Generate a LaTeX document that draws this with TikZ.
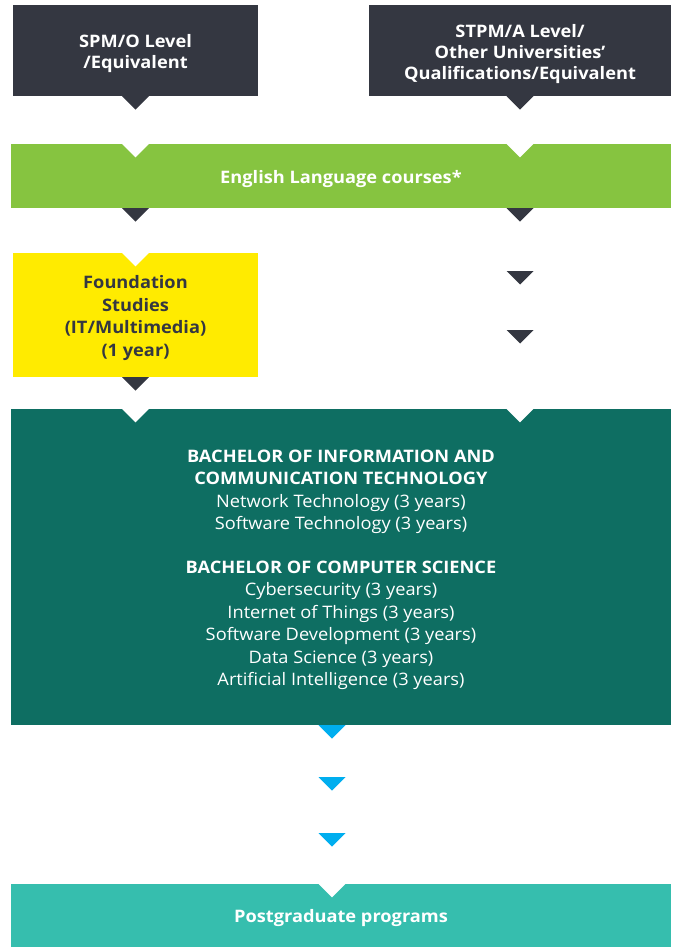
\documentclass[tikz,border=0pt]{standalone}
\usepackage{fontspec}
\setmainfont{Open Sans}[FakeStretch=1.06]
\usetikzlibrary{calc}

\definecolor{slate}{HTML}{343741}
\definecolor{lime}{HTML}{86C440}
\definecolor{sun}{HTML}{FFEB00}
\definecolor{pine}{HTML}{0E6E62}
\definecolor{sky}{HTML}{00AEEF}
\definecolor{mint}{HTML}{36BEAE}

\tikzset{
  box/.style={rectangle, inner sep=0pt},
  txt/.style={align=center, text=white, inner sep=0pt,
    font=\fontsize{17.2}{22.5}\selectfont},
  title/.style={txt, font=\fontsize{17.2}{21}\selectfont\bfseries},
}

% downward triangle hanging from a point
\newcommand{\flowtip}[2]{\fill[#1] (#2) ++(-13.5,0) -- ++(27,0) -- ++(-13.5,13.5) -- cycle;}

\begin{document}
\begin{tikzpicture}[x=1pt, y=-1pt]
\useasboundingbox (0,0) rectangle (677,947);

% Entry
\node[box, fill=slate, minimum width=245pt, minimum height=91pt] (spm) at (135.5,50.5) {};
\node[title] (spm-t) at ([yshift=-3pt]spm.center) {SPM/O Level\\/Equivalent};
\node[box, fill=slate, minimum width=302pt, minimum height=91pt] (stpm) at (520,50.5) {};
\node[title] (stpm-t) at ([yshift=-4pt]stpm.center) {STPM/A Level/\\Other Universities'\\Qualifications/Equivalent};

% English
\node[box, fill=lime, minimum width=660pt, minimum height=64pt] (eng) at (341,176) {};
\node[title] (eng-t) at ([yshift=-3pt]eng.center) {English Language courses*};

% Foundation
\node[box, fill=sun, minimum width=245pt, minimum height=124pt] (fnd) at (135.5,315) {};
\node[title, text=slate, font=\fontsize{17.2}{22.5}\selectfont\bfseries] (fnd-t) at ([yshift=-3pt]fnd.center) {Foundation\\Studies\\(IT/Multimedia)\\(1 year)};

% Degrees
\node[box, fill=pine, minimum width=660pt, minimum height=316pt] (bach) at (341,567) {};
\node[txt] (bach-t) at ([yshift=-3pt]bach.center)
  {\textbf{BACHELOR OF INFORMATION AND}\\
   \textbf{COMMUNICATION TECHNOLOGY}\\
   Network Technology (3 years)\\
   Software Technology (3 years)\\[21pt]
   \textbf{BACHELOR OF COMPUTER SCIENCE}\\
   Cybersecurity (3 years)\\
   Internet of Things (3 years)\\
   Software Development (3 years)\\
   Data Science (3 years)\\
   Artificial Intelligence (3 years)};

% Postgraduate
\node[box, fill=mint, minimum width=660pt, minimum height=63pt] (pg) at (341,915.5) {};
\node[title] (pg-t) at ([yshift=-3pt]pg.center) {Postgraduate programs};

% Tips
\coordinate (mid) at (332,0);
\coordinate (r1) at (stpm.south |- 0,271);
\coordinate (r2) at (stpm.south |- 0,330);
\coordinate (b1) at (mid |- 0,777);
\coordinate (b2) at (mid |- 0,833);

\flowtip{slate}{spm.south}
\flowtip{slate}{stpm.south}
\flowtip{white}{spm.south |- eng.north}
\flowtip{white}{stpm.south |- eng.north}
\flowtip{slate}{spm.south |- eng.south}
\flowtip{slate}{stpm.south |- eng.south}
\flowtip{white}{fnd.north}
\flowtip{slate}{r1}
\flowtip{slate}{r2}
\flowtip{slate}{fnd.south}
\flowtip{white}{spm.south |- bach.north}
\flowtip{white}{stpm.south |- bach.north}
\flowtip{sky}{mid |- bach.south}
\flowtip{sky}{b1}
\flowtip{sky}{b2}
\flowtip{white}{mid |- pg.north}
\end{tikzpicture}
\end{document}
